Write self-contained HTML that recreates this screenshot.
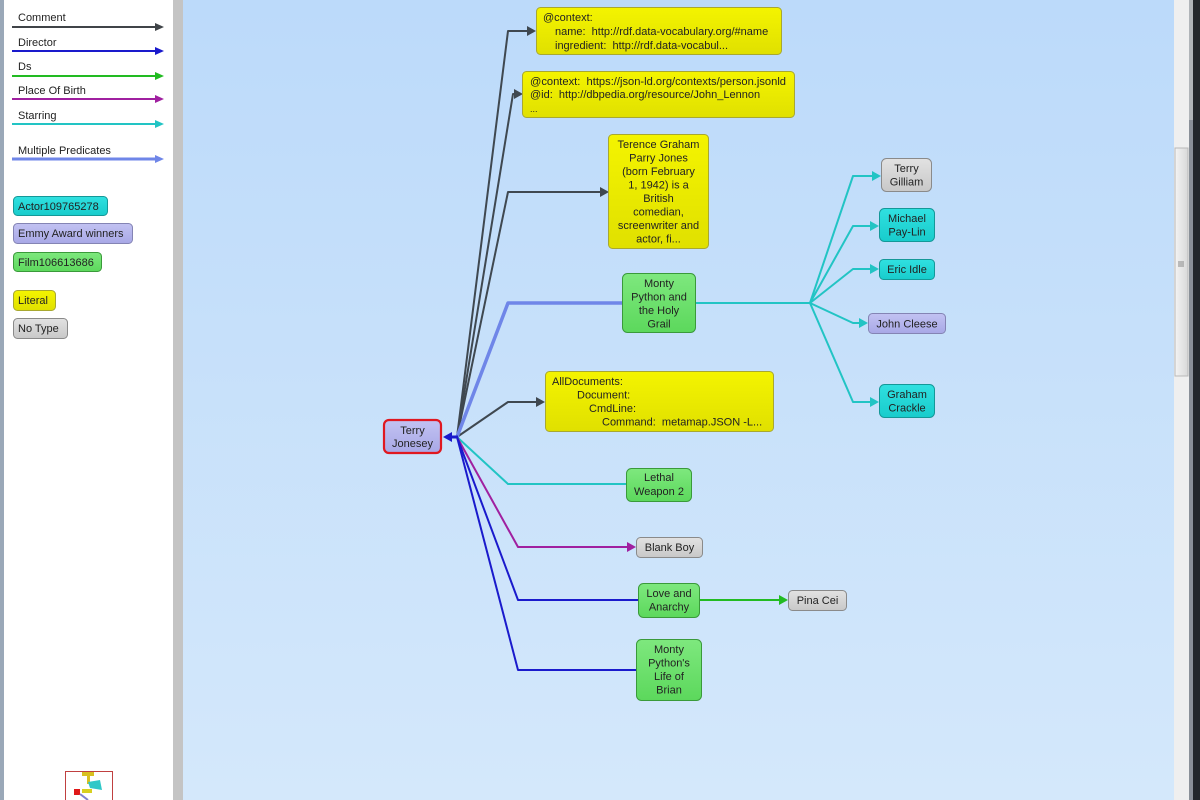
<!DOCTYPE html>
<html><head><meta charset="utf-8"><style>
html,body{margin:0;padding:0;width:1200px;height:800px;overflow:hidden;background:#fff}
svg{display:block}
text{font-family:"Liberation Sans",Arial,sans-serif;font-size:11px;fill:#222;white-space:pre}
</style></head><body>
<svg width="1200" height="800" viewBox="0 0 1200 800" xmlns="http://www.w3.org/2000/svg" xml:space="preserve">
<defs>
<linearGradient id="bg" x1="0" y1="0" x2="0" y2="1">
<stop offset="0" stop-color="#bcdafa"/><stop offset="1" stop-color="#d4e8fb"/>
</linearGradient>
<linearGradient id="yel" x1="0" y1="0" x2="0" y2="1"><stop offset="0" stop-color="#f4f400"/><stop offset="1" stop-color="#e0e000"/></linearGradient>
<linearGradient id="grn" x1="0" y1="0" x2="0" y2="1"><stop offset="0" stop-color="#7ee87e"/><stop offset="1" stop-color="#5cd85c"/></linearGradient>
<linearGradient id="cyn" x1="0" y1="0" x2="0" y2="1"><stop offset="0" stop-color="#30e0e0"/><stop offset="1" stop-color="#18cccc"/></linearGradient>
<linearGradient id="gry" x1="0" y1="0" x2="0" y2="1"><stop offset="0" stop-color="#e2e2e2"/><stop offset="1" stop-color="#c8c8c8"/></linearGradient>
<linearGradient id="pur" x1="0" y1="0" x2="0" y2="1"><stop offset="0" stop-color="#c2c2f2"/><stop offset="1" stop-color="#a8a8e6"/></linearGradient>
<linearGradient id="sb" x1="0" y1="0" x2="1" y2="0"><stop offset="0" stop-color="#f4f4f4"/><stop offset="1" stop-color="#d8d8d8"/></linearGradient>
</defs>

<rect x="0" y="0" width="1200" height="800" fill="url(#bg)"/>
<rect x="0" y="0" width="4" height="800" fill="#9aa8b8"/>
<rect x="4" y="0" width="169" height="800" fill="#ffffff"/>
<rect x="173" y="0" width="10" height="800" fill="#c4c4c4"/>
<rect x="1174" y="0" width="15" height="800" fill="#efefef"/>
<rect x="1175" y="148" width="13" height="228" fill="url(#sb)" stroke="#b8b8b8" stroke-width="1"/>
<line x1="1178" y1="262" x2="1184" y2="262" stroke="#888" stroke-width="1"/>
<line x1="1178" y1="264" x2="1184" y2="264" stroke="#888" stroke-width="1"/>
<line x1="1178" y1="266" x2="1184" y2="266" stroke="#888" stroke-width="1"/>
<rect x="1189" y="0" width="4" height="800" fill="#8a9098"/>
<rect x="1189" y="0" width="4" height="120" fill="#b0b4b8"/>
<rect x="1193" y="0" width="7" height="800" fill="#23272b"/>

<g stroke-width="2" fill="none">
<line x1="12" y1="27" x2="156" y2="27" stroke="#404448"/>
<line x1="12" y1="51" x2="156" y2="51" stroke="#1a1acc"/>
<line x1="12" y1="76" x2="156" y2="76" stroke="#22bb22"/>
<line x1="12" y1="99" x2="156" y2="99" stroke="#a020a0"/>
<line x1="12" y1="124" x2="156" y2="124" stroke="#22c4c4"/>
<line x1="12" y1="159" x2="156" y2="159" stroke="#6f86e8" stroke-width="3"/>
</g>
<polygon points="155,23 164,27 155,31" fill="#404448"/>
<polygon points="155,47 164,51 155,55" fill="#1a1acc"/>
<polygon points="155,72 164,76 155,80" fill="#22bb22"/>
<polygon points="155,95 164,99 155,103" fill="#a020a0"/>
<polygon points="155,120 164,124 155,128" fill="#22c4c4"/>
<polygon points="155,155 164,159 155,163" fill="#6f86e8"/>
<text x="18" y="21">Comment</text>
<text x="18" y="46">Director</text>
<text x="18" y="70">Ds</text>
<text x="18" y="94">Place Of Birth</text>
<text x="18" y="119">Starring</text>
<text x="18" y="154">Multiple Predicates</text>

<rect x="13.5" y="196.5" width="94" height="19" rx="4" fill="url(#cyn)" stroke="#149898"/>
<text x="18" y="210">Actor109765278</text>
<rect x="13.5" y="223.5" width="119" height="20" rx="4" fill="url(#pur)" stroke="#8484b4"/>
<text x="18" y="237">Emmy Award winners</text>
<rect x="13.5" y="252.5" width="88" height="19" rx="4" fill="url(#grn)" stroke="#3a9a3a"/>
<text x="18" y="266">Film106613686</text>
<rect x="13.5" y="290.5" width="42" height="20" rx="4" fill="url(#yel)" stroke="#a8a830"/>
<text x="18" y="304">Literal</text>
<rect x="13.5" y="318.5" width="54" height="20" rx="4" fill="url(#gry)" stroke="#8a8a8a"/>
<text x="18" y="332">No Type</text>

<rect x="65.5" y="771.5" width="47" height="30" fill="#fff" stroke="#c04040"/>
<rect x="82" y="772" width="12" height="4" fill="#d8c020"/>
<rect x="87" y="776" width="3" height="8" fill="#d8c020"/>
<rect x="74" y="789" width="6" height="6" fill="#e01818"/>
<polygon points="88,782 100,780 102,790 90,788" fill="#30c8c8"/>
<rect x="82" y="789" width="10" height="4" fill="#d8d020"/>
<line x1="80" y1="794" x2="88" y2="800" stroke="#8080d0" stroke-width="2"/>

<g fill="none" stroke-width="2" stroke-linejoin="round">
<polyline points="457,437 508,31 530,31" stroke="#3f4850"/>
<polyline points="457,437 513,94 517,94" stroke="#3f4850"/>
<polyline points="457,437 508,192 602,192" stroke="#3f4850"/>
<polyline points="457,437 508,402 539,402" stroke="#3f4850"/>
<polyline points="457,437 508,303 622,303" stroke="#6f86e8" stroke-width="3.5"/>
<polyline points="457,437 508,484 626,484" stroke="#22c4c4"/>
<polyline points="457,437 518,547 629,547" stroke="#a020a0"/>
<polyline points="457,437 518,600 638,600" stroke="#1a1acc"/>
<polyline points="457,437 518,670 636,670" stroke="#1a1acc"/>
<polyline points="700,600 782,600" stroke="#22bb22"/>
<polyline points="695,303 810,303" stroke="#22c4c4"/>
<polyline points="810,303 853,176 875,176" stroke="#22c4c4"/>
<polyline points="810,303 853,226 873,226" stroke="#22c4c4"/>
<polyline points="810,303 853,269 873,269" stroke="#22c4c4"/>
<polyline points="810,303 853,323 862,323" stroke="#22c4c4"/>
<polyline points="810,303 853,402 873,402" stroke="#22c4c4"/>
</g>
<polygon points="527,26 536,31 527,36" fill="#3f4850"/>
<polygon points="514,89 523,94 514,99" fill="#3f4850"/>
<polygon points="600,187 609,192 600,197" fill="#3f4850"/>
<polygon points="536,397 545,402 536,407" fill="#3f4850"/>
<polygon points="627,542 636,547 627,552" fill="#a020a0"/>
<polygon points="779,595 788,600 779,605" fill="#22bb22"/>
<polygon points="872,171 881,176 872,181" fill="#22c4c4"/>
<polygon points="870,221 879,226 870,231" fill="#22c4c4"/>
<polygon points="870,264 879,269 870,274" fill="#22c4c4"/>
<polygon points="859,318 868,323 859,328" fill="#22c4c4"/>
<polygon points="870,397 879,402 870,407" fill="#22c4c4"/>
<polygon points="452,432 443,437 452,442" fill="#1a1acc"/>
<line x1="450" y1="437" x2="458" y2="437" stroke="#1a1acc" stroke-width="3"/>

<rect x="384" y="420" width="57" height="33" rx="5" fill="url(#pur)" stroke="#e01820" stroke-width="2.2"/>
<text x="412.5" y="434" text-anchor="middle">Terry</text>
<text x="412.5" y="447" text-anchor="middle">Jonesey</text>

<rect x="536.5" y="7.5" width="245" height="47" rx="4" fill="url(#yel)" stroke="#a8a830"/>
<text x="543" y="21">@context:</text>
<text x="555" y="35">name:  http://rdf.data-vocabulary.org/#name</text>
<text x="555" y="49">ingredient:  http://rdf.data-vocabul...</text>

<rect x="522.5" y="71.5" width="272" height="46" rx="4" fill="url(#yel)" stroke="#a8a830"/>
<text x="530" y="85" textLength="256" lengthAdjust="spacingAndGlyphs">@context:  https://json-ld.org/contexts/person.jsonld</text>
<text x="530" y="98">@id:  http://dbpedia.org/resource/John_Lennon</text>
<text x="530" y="112" style="font-size:9px">...</text>

<rect x="608.5" y="134.5" width="100" height="114" rx="4" fill="url(#yel)" stroke="#a8a830"/>
<g text-anchor="middle">
<text x="658.5" y="148">Terence Graham</text>
<text x="658.5" y="161.5">Parry Jones</text>
<text x="658.5" y="175">(born February</text>
<text x="658.5" y="188.5">1, 1942) is a</text>
<text x="658.5" y="202">British</text>
<text x="658.5" y="215.5">comedian,</text>
<text x="658.5" y="229">screenwriter and</text>
<text x="658.5" y="242.5">actor, fi...</text>
</g>

<rect x="622.5" y="273.5" width="73" height="59" rx="5" fill="url(#grn)" stroke="#3a9a3a"/>
<g text-anchor="middle">
<text x="659" y="287">Monty</text>
<text x="659" y="300.5">Python and</text>
<text x="659" y="314">the Holy</text>
<text x="659" y="327.5">Grail</text>
</g>

<rect x="545.5" y="371.5" width="228" height="60" rx="4" fill="url(#yel)" stroke="#a8a830"/>
<text x="552" y="385">AllDocuments:</text>
<text x="577" y="398.5">Document:</text>
<text x="589" y="412">CmdLine:</text>
<text x="602" y="425.5">Command:  metamap.JSON -L...</text>

<rect x="626.5" y="468.5" width="65" height="33" rx="5" fill="url(#grn)" stroke="#3a9a3a"/>
<text x="659" y="481" text-anchor="middle">Lethal</text>
<text x="659" y="495" text-anchor="middle">Weapon 2</text>

<rect x="636.5" y="537.5" width="66" height="20" rx="4" fill="url(#gry)" stroke="#8a8a8a"/>
<text x="669.5" y="551" text-anchor="middle">Blank Boy</text>

<rect x="638.5" y="583.5" width="61" height="34" rx="5" fill="url(#grn)" stroke="#3a9a3a"/>
<text x="669" y="597" text-anchor="middle">Love and</text>
<text x="669" y="610.5" text-anchor="middle">Anarchy</text>

<rect x="788.5" y="590.5" width="58" height="20" rx="4" fill="url(#gry)" stroke="#8a8a8a"/>
<text x="817.5" y="604" text-anchor="middle">Pina Cei</text>

<rect x="636.5" y="639.5" width="65" height="61" rx="5" fill="url(#grn)" stroke="#3a9a3a"/>
<g text-anchor="middle">
<text x="669" y="653">Monty</text>
<text x="669" y="666.5">Python's</text>
<text x="669" y="680">Life of</text>
<text x="669" y="693.5">Brian</text>
</g>

<rect x="881.5" y="158.5" width="50" height="33" rx="5" fill="url(#gry)" stroke="#8a8a8a"/>
<text x="906.5" y="172" text-anchor="middle">Terry</text>
<text x="906.5" y="185.5" text-anchor="middle">Gilliam</text>

<rect x="879.5" y="208.5" width="55" height="33" rx="5" fill="url(#cyn)" stroke="#149898"/>
<text x="907" y="222" text-anchor="middle">Michael</text>
<text x="907" y="235.5" text-anchor="middle">Pay-Lin</text>

<rect x="879.5" y="259.5" width="55" height="20" rx="4" fill="url(#cyn)" stroke="#149898"/>
<text x="907" y="273" text-anchor="middle">Eric Idle</text>

<rect x="868.5" y="313.5" width="77" height="20" rx="4" fill="url(#pur)" stroke="#8484b4"/>
<text x="907" y="327.5" text-anchor="middle">John Cleese</text>

<rect x="879.5" y="384.5" width="55" height="33" rx="5" fill="url(#cyn)" stroke="#149898"/>
<text x="907" y="398" text-anchor="middle">Graham</text>
<text x="907" y="411.5" text-anchor="middle">Crackle</text>
</svg>
</body></html>
